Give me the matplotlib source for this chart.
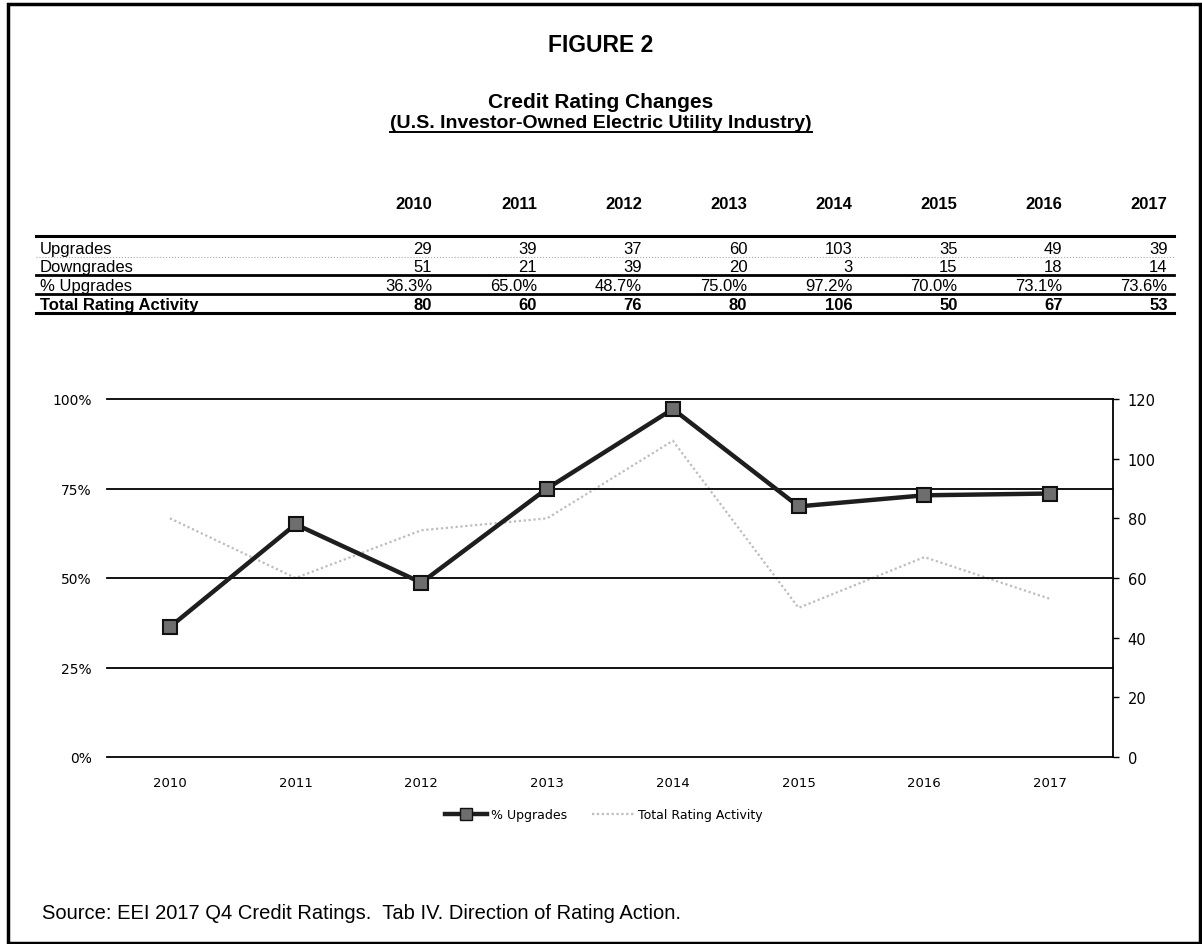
import matplotlib
matplotlib.use("Agg")
import matplotlib.pyplot as plt
from matplotlib.lines import Line2D
from matplotlib.patches import Rectangle

# table / chart data
years = [2010, 2011, 2012, 2013, 2014, 2015, 2016, 2017]
upgrades = [29, 39, 37, 60, 103, 35, 49, 39]
downgrades = [51, 21, 39, 20, 3, 15, 18, 14]
pct_upgrades = [36.3, 65.0, 48.7, 75.0, 97.2, 70.0, 73.1, 73.6]
total_activity = [80, 60, 76, 80, 106, 50, 67, 53]

left_ticks = [0, 0.25, 0.5, 0.75, 1.0]
left_labels = ["0%", "25%", "50%", "75%", "100%"]
right_ticks = [0, 20, 40, 60, 80, 100, 120]

W, H = 1202, 945
SANS = "Liberation Sans"
TICKF = "DejaVu Sans"


def fx(x):
    return x / W


def fy(y):
    return 1 - y / H


fig = plt.figure(figsize=(W / 100, H / 100), dpi=100)
fig.patch.set_facecolor("white")

# page border
fig.patches.append(Rectangle((fx(8), fy(944)), fx(1200) - fx(8), fy(5) - fy(944),
                             transform=fig.transFigure, fill=False, lw=2.5,
                             edgecolor="black"))

# titles
fig.text(fx(601), fy(45), "FIGURE 2", ha="center", va="center",
         family=SANS, fontsize=16.5, fontweight="bold")
fig.text(fx(601), fy(103), "Credit Rating Changes", ha="center", va="center",
         family=SANS, fontsize=15, fontweight="bold")
sub = fig.text(fx(601), fy(123), "(U.S. Investor-Owned Electric Utility Industry)",
               ha="center", va="center", family=SANS, fontsize=14, fontweight="bold")
fig.canvas.draw()
bb = sub.get_window_extent(fig.canvas.get_renderer())
fig.add_artist(Line2D([bb.x0 / W, bb.x1 / W], [fy(133), fy(133)],
                      transform=fig.transFigure, color="black", lw=1.4))

# ---- table ----
col_right = [432 + i * 105.1 for i in range(len(years))]
tab_left, tab_right = 36, 1174
row_base = [254, 272, 291, 310]
lines_y = [(237, 2.2), (276, 2.0), (295, 2.0), (314, 2.2)]

for yr, xr in zip(years, col_right):
    fig.text(fx(xr), fy(209), str(yr), ha="right", va="baseline",
             family=SANS, fontsize=12, fontweight="bold")

for ly, lw in lines_y:
    fig.add_artist(Line2D([fx(tab_left), fx(tab_right)], [fy(ly), fy(ly)],
                          transform=fig.transFigure, color="black", lw=lw))
# faint dotted rule between upgrades and downgrades (scan)
fig.add_artist(Line2D([fx(tab_left), fx(tab_right)], [fy(258), fy(258)],
                      transform=fig.transFigure, color="#aaaaaa", lw=0.8, ls=":"))

row_names = ["Upgrades", "Downgrades", "% Upgrades", "Total Rating Activity"]
row_vals = [
    [str(v) for v in upgrades],
    [str(v) for v in downgrades],
    [f"{v:.1f}%" for v in pct_upgrades],
    [str(v) for v in total_activity],
]
for i, (name, vals) in enumerate(zip(row_names, row_vals)):
    weight = "bold" if i == 3 else "normal"
    fig.text(fx(40), fy(row_base[i]), name, ha="left", va="baseline",
             family=SANS, fontsize=12, fontweight=weight)
    for v, xr in zip(vals, col_right):
        fig.text(fx(xr), fy(row_base[i]), v, ha="right", va="baseline",
                 family=SANS, fontsize=12, fontweight=weight)

# ---- chart ----
ax = fig.add_axes([fx(107), fy(758), fx(1113) - fx(107), fy(400) - fy(758)])
x = list(range(len(years)))
ax.set_xlim(-0.5, len(years) - 0.5)
ax.set_ylim(0, 1)
for t in left_ticks[1:]:
    ax.axhline(t, color="black", lw=1.3, clip_on=False, zorder=1)
for s in ["left", "top", "right"]:
    ax.spines[s].set_visible(False)
ax.spines["bottom"].set_linewidth(1.3)
ax.set_yticks(left_ticks)
ax.set_yticklabels(left_labels, family=TICKF, fontsize=10)
ax.tick_params(axis="y", length=0, pad=11)
ax.set_xticks(x)
ax.set_xticklabels([str(y) for y in years], family=TICKF, fontsize=9.5)
ax.tick_params(axis="x", length=0, pad=14)

ax2 = ax.twinx()
ax2.set_ylim(0, 120)
ax2.set_yticks(right_ticks)
ax2.set_yticklabels([str(v) for v in right_ticks], family=TICKF, fontsize=10.5)
for s in ["left", "top", "bottom"]:
    ax2.spines[s].set_visible(False)
ax2.spines["right"].set_linewidth(1.3)
ax2.tick_params(axis="y", direction="out", length=4.5, width=1, pad=6)

ax2.plot(x, total_activity, color="#bdbdbd", lw=1.6, ls=(0, (1, 1.2)), zorder=2)
ax.set_zorder(ax2.get_zorder() + 1)
ax.patch.set_visible(False)
ax.plot(x, [p / 100 for p in pct_upgrades], color="#1e1e1e", lw=3.2,
        marker="s", markersize=10.5, markerfacecolor="#6e6e6e",
        markeredgecolor="#111111", markeredgewidth=1.5, zorder=3)

# legend
h1 = Line2D([], [], color="#1e1e1e", lw=3.2, marker="s", markersize=8,
            markerfacecolor="#6e6e6e", markeredgecolor="#111111")
h2 = Line2D([], [], color="#bdbdbd", lw=1.6, ls=(0, (1, 1.2)))
fig.legend([h1, h2], ["% Upgrades", "Total Rating Activity"], loc="center",
           bbox_to_anchor=(fx(604), fy(816)), ncol=2, frameon=False,
           prop={"family": TICKF, "size": 9}, handlelength=3.4,
           handletextpad=0.3, columnspacing=2.0)

fig.text(fx(42), fy(914),
         "Source: EEI 2017 Q4 Credit Ratings.  Tab IV. Direction of Rating Action.",
         ha="left", va="center", family=SANS, fontsize=14.5)

fig.savefig("out.png", dpi=100)
